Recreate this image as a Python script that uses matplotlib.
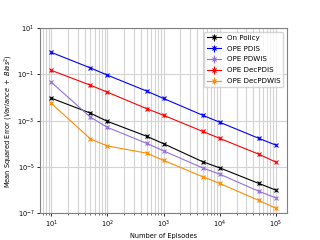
import numpy as np
import matplotlib
matplotlib.use("Agg")
import matplotlib.pyplot as plt
from matplotlib.ticker import LogLocator, NullLocator, FixedLocator

# ==========================
# dados
# ==========================
episodes = [10, 50, 100, 500, 1000, 5000, 10000, 50000, 100000]

on_policy = [9.4e-3, 2.1e-3, 9.3e-4, 2.1e-4, 1.0e-4, 1.65e-5, 9.0e-6, 1.9e-6, 9.8e-7]
ope_pdis = [0.9, 0.19, 0.093, 0.019, 0.0091, 0.0017, 8.5e-4, 1.7e-4, 8.7e-5]
ope_pdwis = [0.046, 1.4e-3, 5.1e-4, 1.04e-4, 4.9e-5, 8.9e-6, 4.8e-6, 8.7e-7, 4.5e-7]
ope_decpdis = [0.15, 0.034, 0.017, 3.3e-3, 1.7e-3, 3.4e-4, 1.7e-4, 3.5e-5, 1.6e-5]
ope_decpdwis = [5.6e-3, 1.6e-4, 8.0e-5, 3.9e-5, 1.9e-5, 3.7e-6, 1.9e-6, 3.5e-7, 1.6e-7]

labels = ["On Policy", "OPE PDIS", "OPE PDWIS", "OPE DecPDIS", "OPE DecPDWIS"]
series = [on_policy, ope_pdis, ope_pdwis, ope_decpdis, ope_decpdwis]
colors = ["black", "blue", "mediumpurple", "red", "darkorange"]

yticks = [1e-7, 1e-5, 1e-3, 1e-1, 1e1]

# ==========================
# plot
# ==========================
plt.rcParams["font.size"] = 4.8

fig = plt.figure(figsize=(3.2, 2.4), dpi=100)
ax = fig.add_axes([0.125, 0.1125, 0.772, 0.77])

for lab, vals, c in zip(labels, series, colors):
    vals = np.array(vals)
    ax.errorbar(episodes, vals, yerr=vals * 0.12, color=c, marker="x",
                markersize=3, linewidth=0.8, elinewidth=0.8,
                markeredgewidth=0.8, label=lab)

ax.set_xscale("log")
ax.set_yscale("log")
ax.set_ylim(1e-7, 1e1)
ax.yaxis.set_major_locator(FixedLocator(yticks))
ax.yaxis.set_minor_locator(NullLocator())
ax.xaxis.set_minor_locator(LogLocator(base=10.0, subs=np.arange(2, 10)))

ax.grid(True, which="both", axis="x", color="#d3d3d3", linewidth=0.8)
ax.grid(True, which="major", axis="y", color="#d3d3d3", linewidth=0.8)
ax.set_axisbelow(True)
ax.tick_params(length=2.5, width=0.6, pad=1.5)
ax.tick_params(which="minor", length=1.5, width=0.4)

ax.set_xlabel("Number of Episodes", labelpad=2)
ax.set_ylabel(r"Mean Squared Error ($Variance\ +\ Bias^2$)", labelpad=2)
ax.legend(loc="upper right", fontsize=5.1, labelspacing=0.7)

for s in ax.spines.values():
    s.set_color("#808080")

plt.savefig("out.png", dpi=100)
plt.close()
